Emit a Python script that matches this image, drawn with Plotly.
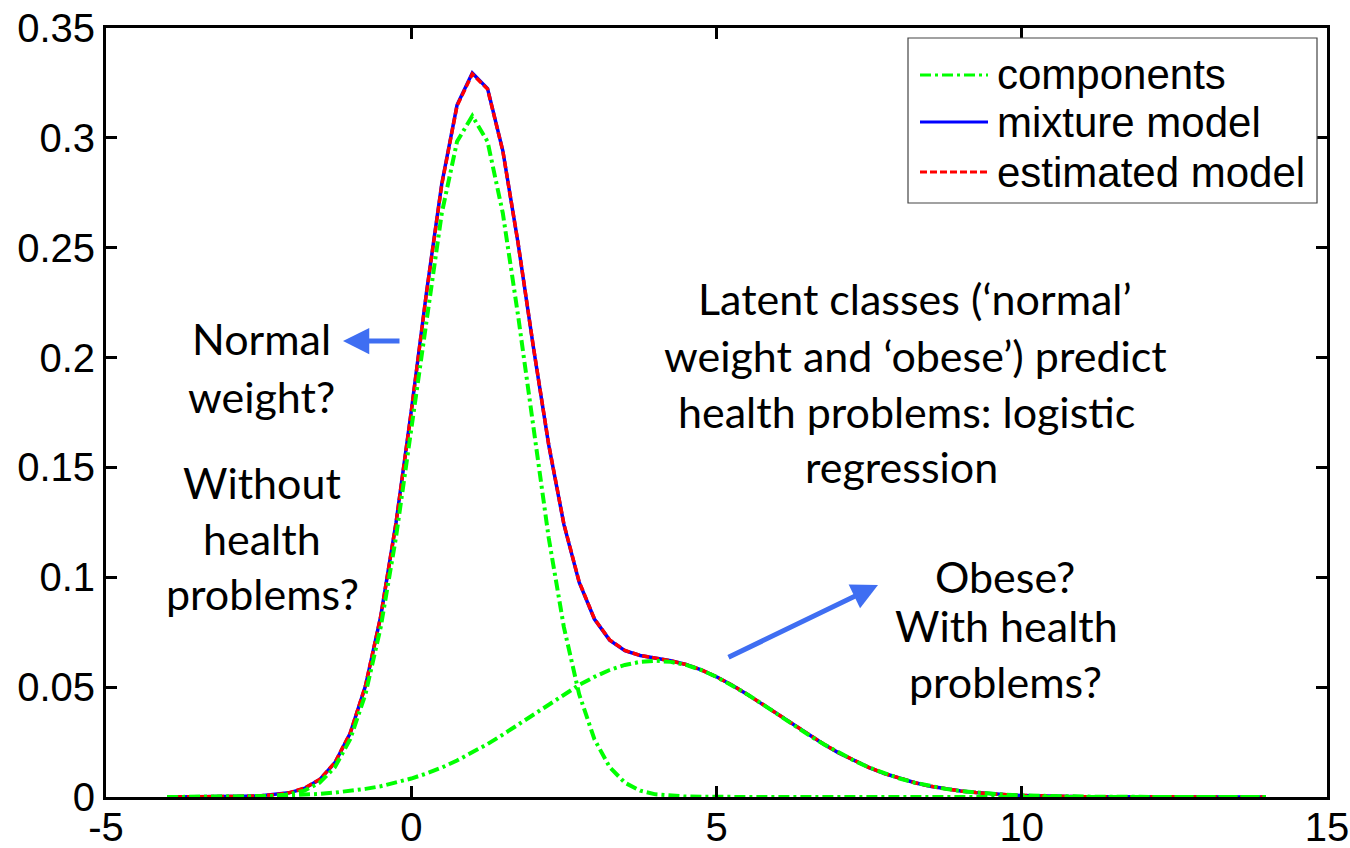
import plotly.graph_objects as go

# Sample grid (x) and the curves drawn on it
x_grid = [-4.0, -3.75, -3.5, -3.25, -3.0, -2.75, -2.5, -2.25, -2.0, -1.75, -1.5, -1.25,
          -1.0, -0.75, -0.5, -0.25, 0.0, 0.25, 0.5, 0.75, 1.0, 1.25, 1.5, 1.75,
          2.0, 2.25, 2.5, 2.75, 3.0, 3.25, 3.5, 3.75, 4.0, 4.25, 4.5, 4.75,
          5.0, 5.25, 5.5, 5.75, 6.0, 6.25, 6.5, 6.75, 7.0, 7.25, 7.5, 7.75,
          8.0, 8.25, 8.5, 8.75, 9.0, 9.25, 9.5, 9.75, 10.0, 10.25, 10.5, 10.75,
          11.0, 11.25, 11.5, 11.75, 12.0, 12.25, 12.5, 12.75, 13.0, 13.25, 13.5, 13.75, 14.0]

component_normal = [0.0, 0.0, 0.0, 0.0, 0.0, 0.0001, 0.0002, 0.0005, 0.0012, 0.0029, 0.0065, 0.0136,
                    0.0263, 0.0468, 0.0773, 0.1182, 0.1672, 0.2191, 0.2657, 0.2983, 0.3100, 0.2983, 0.2657, 0.2191,
                    0.1672, 0.1182, 0.0773, 0.0468, 0.0263, 0.0136, 0.0065, 0.0029, 0.0012, 0.0005, 0.0002, 0.0001,
                    0.0, 0.0, 0.0, 0.0, 0.0, 0.0, 0.0, 0.0, 0.0, 0.0, 0.0, 0.0,
                    0.0, 0.0, 0.0, 0.0, 0.0, 0.0, 0.0, 0.0, 0.0, 0.0, 0.0, 0.0,
                    0.0, 0.0, 0.0, 0.0, 0.0, 0.0, 0.0, 0.0, 0.0, 0.0, 0.0, 0.0, 0.0]

component_obese = [0.0, 0.0, 0.0001, 0.0001, 0.0001, 0.0002, 0.0003, 0.0005, 0.0007, 0.0010, 0.0014, 0.0020,
                   0.0027, 0.0037, 0.0049, 0.0065, 0.0084, 0.0107, 0.0134, 0.0166, 0.0201, 0.0241, 0.0284, 0.0329,
                   0.0376, 0.0423, 0.0468, 0.0510, 0.0547, 0.0578, 0.0601, 0.0615, 0.0620, 0.0615, 0.0601, 0.0578,
                   0.0547, 0.0510, 0.0468, 0.0423, 0.0376, 0.0329, 0.0284, 0.0241, 0.0201, 0.0166, 0.0134, 0.0107,
                   0.0084, 0.0065, 0.0049, 0.0037, 0.0027, 0.0020, 0.0014, 0.0010, 0.0007, 0.0005, 0.0003, 0.0002,
                   0.0001, 0.0001, 0.0001, 0.0, 0.0, 0.0, 0.0, 0.0, 0.0, 0.0, 0.0, 0.0, 0.0]

mixture_model = [0.0, 0.0, 0.0001, 0.0001, 0.0001, 0.0003, 0.0005, 0.0010, 0.0019, 0.0039, 0.0079, 0.0156,
                 0.0290, 0.0505, 0.0822, 0.1247, 0.1756, 0.2298, 0.2791, 0.3149, 0.3295, 0.3224, 0.2941, 0.2520,
                 0.2048, 0.1605, 0.1241, 0.0978, 0.0810, 0.0714, 0.0666, 0.0644, 0.0632, 0.0620, 0.0603, 0.0579,
                 0.0547, 0.0510, 0.0468, 0.0423, 0.0376, 0.0329, 0.0284, 0.0241, 0.0201, 0.0166, 0.0134, 0.0107,
                 0.0084, 0.0065, 0.0049, 0.0037, 0.0027, 0.0020, 0.0014, 0.0010, 0.0007, 0.0005, 0.0003, 0.0002,
                 0.0001, 0.0001, 0.0001, 0.0, 0.0, 0.0, 0.0, 0.0, 0.0, 0.0, 0.0, 0.0, 0.0]

estimated_model = [0.0, 0.0, 0.0001, 0.0001, 0.0001, 0.0003, 0.0005, 0.0010, 0.0020, 0.0040, 0.0080, 0.0157,
                   0.0291, 0.0506, 0.0823, 0.1246, 0.1753, 0.2294, 0.2787, 0.3146, 0.3291, 0.3222, 0.2940, 0.2521,
                   0.2050, 0.1607, 0.1243, 0.0980, 0.0811, 0.0715, 0.0667, 0.0644, 0.0632, 0.0620, 0.0603, 0.0579,
                   0.0547, 0.0510, 0.0468, 0.0423, 0.0377, 0.0330, 0.0285, 0.0242, 0.0202, 0.0166, 0.0134, 0.0107,
                   0.0084, 0.0065, 0.0049, 0.0037, 0.0027, 0.0020, 0.0014, 0.0010, 0.0007, 0.0005, 0.0003, 0.0002,
                   0.0001, 0.0001, 0.0001, 0.0, 0.0, 0.0, 0.0, 0.0, 0.0, 0.0, 0.0, 0.0, 0.0]

x_ticks = [-5, 0, 5, 10, 15]
x_tick_text = ["-5", "0", "5", "10", "15"]
y_ticks = [0, 0.05, 0.1, 0.15, 0.2, 0.25, 0.3, 0.35]
y_tick_text = ["0", "0.05", "0.1", "0.15", "0.2", "0.25", "0.3", "0.35"]

legend_labels = ["components", "mixture model", "estimated model"]

GREEN = "#00FF00"
BLUE = "#0000FF"
RED = "#FF0000"
ARROW = "#3F6EF2"
GREEN_DASH = "11px,4px,3px,4px"
RED_DASH = "7px,3px"

W, H = 1350, 848
L, R, T, B = 106, 23, 28, 51
PW, PH = W - L - R, H - T - B


def px(xp):
    return (xp - L) / PW


def py(yp):
    return (H - B - yp) / PH


fig = go.Figure()
fig.add_trace(go.Scatter(x=x_grid, y=mixture_model, mode="lines",
                         line=dict(color=BLUE, width=3.5), showlegend=False))
fig.add_trace(go.Scatter(x=x_grid, y=estimated_model, mode="lines",
                         line=dict(color=RED, width=3.5, dash=RED_DASH), showlegend=False))
fig.add_trace(go.Scatter(x=x_grid, y=component_normal, mode="lines",
                         line=dict(color=GREEN, width=4, dash=GREEN_DASH), showlegend=False))
fig.add_trace(go.Scatter(x=x_grid, y=component_obese, mode="lines",
                         line=dict(color=GREEN, width=4, dash=GREEN_DASH), showlegend=False))

axis_font = dict(family="Liberation Sans, Arial, sans-serif", size=40, color="black")
legend_font = dict(family="Liberation Sans, Arial, sans-serif", size=42, color="black")
common_axis = dict(showline=True, linecolor="black", linewidth=3, mirror="ticks",
                   ticks="inside", ticklen=11, tickwidth=3, tickcolor="black",
                   showgrid=False, zeroline=False, tickfont=axis_font, automargin=False)

fig.update_layout(
    width=W, height=H,
    margin=dict(l=L, r=R, t=T, b=B, autoexpand=False),
    paper_bgcolor="white", plot_bgcolor="white",
    xaxis=dict(range=[-5, 15], tickvals=x_ticks, ticktext=x_tick_text,
               ticklabelstandoff=-7, **common_axis),
    yaxis=dict(range=[0, 0.35], tickvals=y_ticks, ticktext=y_tick_text, **common_axis),
)

# Legend box, drawn in paper coordinates
shapes = [dict(type="rect", xref="paper", yref="paper",
               x0=px(908), x1=px(1317), y0=py(203), y1=py(38),
               line=dict(color="#444444", width=1.2), fillcolor="white", layer="above")]
legend_rows = [(75, GREEN, GREEN_DASH, 3), (122, BLUE, "solid", 3), (172, RED, RED_DASH, 3)]
for (row_y, col, dash, wd) in legend_rows:
    shapes.append(dict(type="line", xref="paper", yref="paper",
                       x0=px(920), x1=px(988), y0=py(row_y), y1=py(row_y),
                       line=dict(color=col, width=wd, dash=dash), layer="above"))
fig.update_layout(shapes=shapes)

annotations = []
for (row_y, _, _, _), label in zip(legend_rows, legend_labels):
    annotations.append(dict(x=px(995), y=py(row_y), xref="paper", yref="paper",
                            text=label, showarrow=False, xanchor="left", yanchor="middle",
                            font=legend_font))

note_font = dict(family="Lato, Carlito, sans-serif", size=43, color="black")
text_lines = [
    ("Normal", 261, 338), ("weight?", 261, 396),
    ("Without", 262, 482), ("health", 262, 538), ("problems?", 262, 593),
    ("Latent classes (‘normal’", 915, 298), ("weight and ‘obese’) predict", 915, 355),
    ("health problems: logistic", 906, 411), ("regression", 901, 466),
    ("Obese?", 1005, 576), ("With health", 1006, 625), ("problems?", 1005, 681),
]
for txt, xp, yp in text_lines:
    annotations.append(dict(x=px(xp), y=py(yp), xref="paper", yref="paper",
                            text=txt, showarrow=False, xanchor="center", yanchor="middle",
                            font=note_font, borderpad=0))

# Pointer arrows
arrows = [((343, 341), (401, 341)), ((878, 585), (727, 658))]
for (hx, hy), (tx, ty) in arrows:
    annotations.append(dict(x=px(hx), y=py(hy), xref="paper", yref="paper",
                            ax=tx - hx, ay=ty - hy, text="", showarrow=True,
                            arrowhead=2, arrowsize=1.05, arrowwidth=5, arrowcolor=ARROW,
                            standoff=0))

fig.update_layout(annotations=annotations)

fig.write_html("out.html")
